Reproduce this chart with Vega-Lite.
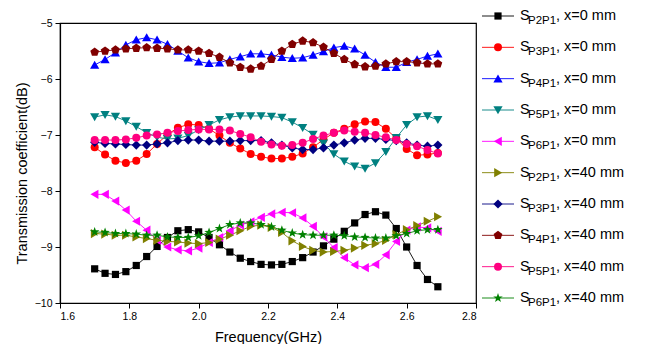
{
"$schema": "https://vega.github.io/schema/vega-lite/v6.json",
"background": "white",
"padding": {"left": 14, "top": 8, "right": 0, "bottom": 0},
"width": 416,
"height": 280,
"config": {
 "font": "Liberation Sans",
 "view": {"stroke": "#000", "strokeWidth": 1.2},
 "axis": {"domainColor": "#000", "tickColor": "#000", "labelColor": "#000", "titleColor": "#000", "labelFont": "Liberation Sans", "titleFont": "Liberation Sans", "labelFontSize": 10.5, "titleFontSize": 14.5, "titleFontWeight": "normal", "grid": false, "tickSize": 5, "labelPadding": 3, "domainWidth": 1.2, "tickWidth": 1}
},
"datasets": {
"pts": [
{"s":"P2P1_0","f":1.7,"v":-9.39},{"s":"P2P1_0","f":1.73,"v":-9.47},{"s":"P2P1_0","f":1.76,"v":-9.49},{"s":"P2P1_0","f":1.79,"v":-9.44},{"s":"P2P1_0","f":1.82,"v":-9.33},{"s":"P2P1_0","f":1.85,"v":-9.17},{"s":"P2P1_0","f":1.88,"v":-8.99},{"s":"P2P1_0","f":1.91,"v":-8.83},{"s":"P2P1_0","f":1.94,"v":-8.71},{"s":"P2P1_0","f":1.97,"v":-8.69},{"s":"P2P1_0","f":2.0,"v":-8.73},{"s":"P2P1_0","f":2.03,"v":-8.83},{"s":"P2P1_0","f":2.06,"v":-8.96},{"s":"P2P1_0","f":2.09,"v":-9.09},{"s":"P2P1_0","f":2.12,"v":-9.2},{"s":"P2P1_0","f":2.15,"v":-9.26},{"s":"P2P1_0","f":2.18,"v":-9.31},{"s":"P2P1_0","f":2.21,"v":-9.32},{"s":"P2P1_0","f":2.24,"v":-9.31},{"s":"P2P1_0","f":2.27,"v":-9.26},{"s":"P2P1_0","f":2.3,"v":-9.19},{"s":"P2P1_0","f":2.33,"v":-9.09},{"s":"P2P1_0","f":2.36,"v":-8.98},{"s":"P2P1_0","f":2.39,"v":-8.86},{"s":"P2P1_0","f":2.42,"v":-8.72},{"s":"P2P1_0","f":2.45,"v":-8.57},{"s":"P2P1_0","f":2.48,"v":-8.42},{"s":"P2P1_0","f":2.51,"v":-8.37},{"s":"P2P1_0","f":2.54,"v":-8.43},{"s":"P2P1_0","f":2.57,"v":-8.67},{"s":"P2P1_0","f":2.6,"v":-9.0},{"s":"P2P1_0","f":2.63,"v":-9.33},{"s":"P2P1_0","f":2.66,"v":-9.58},{"s":"P2P1_0","f":2.69,"v":-9.71},
{"s":"P3P1_0","f":1.7,"v":-7.22},{"s":"P3P1_0","f":1.73,"v":-7.35},{"s":"P3P1_0","f":1.76,"v":-7.46},{"s":"P3P1_0","f":1.79,"v":-7.5},{"s":"P3P1_0","f":1.82,"v":-7.46},{"s":"P3P1_0","f":1.85,"v":-7.34},{"s":"P3P1_0","f":1.88,"v":-7.16},{"s":"P3P1_0","f":1.91,"v":-6.99},{"s":"P3P1_0","f":1.94,"v":-6.87},{"s":"P3P1_0","f":1.97,"v":-6.81},{"s":"P3P1_0","f":2.0,"v":-6.82},{"s":"P3P1_0","f":2.03,"v":-6.89},{"s":"P3P1_0","f":2.06,"v":-7.01},{"s":"P3P1_0","f":2.09,"v":-7.14},{"s":"P3P1_0","f":2.12,"v":-7.24},{"s":"P3P1_0","f":2.15,"v":-7.34},{"s":"P3P1_0","f":2.18,"v":-7.39},{"s":"P3P1_0","f":2.21,"v":-7.42},{"s":"P3P1_0","f":2.24,"v":-7.42},{"s":"P3P1_0","f":2.27,"v":-7.39},{"s":"P3P1_0","f":2.3,"v":-7.33},{"s":"P3P1_0","f":2.33,"v":-7.22},{"s":"P3P1_0","f":2.36,"v":-7.08},{"s":"P3P1_0","f":2.39,"v":-6.96},{"s":"P3P1_0","f":2.42,"v":-6.89},{"s":"P3P1_0","f":2.45,"v":-6.81},{"s":"P3P1_0","f":2.48,"v":-6.76},{"s":"P3P1_0","f":2.51,"v":-6.77},{"s":"P3P1_0","f":2.54,"v":-6.89},{"s":"P3P1_0","f":2.57,"v":-7.06},{"s":"P3P1_0","f":2.6,"v":-7.25},{"s":"P3P1_0","f":2.63,"v":-7.36},{"s":"P3P1_0","f":2.66,"v":-7.35},{"s":"P3P1_0","f":2.69,"v":-7.32},
{"s":"P4P1_0","f":1.7,"v":-5.75},{"s":"P4P1_0","f":1.73,"v":-5.65},{"s":"P4P1_0","f":1.76,"v":-5.53},{"s":"P4P1_0","f":1.79,"v":-5.39},{"s":"P4P1_0","f":1.82,"v":-5.3},{"s":"P4P1_0","f":1.85,"v":-5.26},{"s":"P4P1_0","f":1.88,"v":-5.3},{"s":"P4P1_0","f":1.91,"v":-5.38},{"s":"P4P1_0","f":1.94,"v":-5.5},{"s":"P4P1_0","f":1.97,"v":-5.62},{"s":"P4P1_0","f":2.0,"v":-5.69},{"s":"P4P1_0","f":2.03,"v":-5.72},{"s":"P4P1_0","f":2.06,"v":-5.71},{"s":"P4P1_0","f":2.09,"v":-5.65},{"s":"P4P1_0","f":2.12,"v":-5.6},{"s":"P4P1_0","f":2.15,"v":-5.55},{"s":"P4P1_0","f":2.18,"v":-5.55},{"s":"P4P1_0","f":2.21,"v":-5.57},{"s":"P4P1_0","f":2.24,"v":-5.61},{"s":"P4P1_0","f":2.27,"v":-5.63},{"s":"P4P1_0","f":2.3,"v":-5.62},{"s":"P4P1_0","f":2.33,"v":-5.57},{"s":"P4P1_0","f":2.36,"v":-5.51},{"s":"P4P1_0","f":2.39,"v":-5.44},{"s":"P4P1_0","f":2.42,"v":-5.41},{"s":"P4P1_0","f":2.45,"v":-5.46},{"s":"P4P1_0","f":2.48,"v":-5.57},{"s":"P4P1_0","f":2.51,"v":-5.7},{"s":"P4P1_0","f":2.54,"v":-5.79},{"s":"P4P1_0","f":2.57,"v":-5.79},{"s":"P4P1_0","f":2.6,"v":-5.7},{"s":"P4P1_0","f":2.63,"v":-5.65},{"s":"P4P1_0","f":2.66,"v":-5.59},{"s":"P4P1_0","f":2.69,"v":-5.55},
{"s":"P5P1_0","f":1.7,"v":-6.68},{"s":"P5P1_0","f":1.73,"v":-6.64},{"s":"P5P1_0","f":1.76,"v":-6.67},{"s":"P5P1_0","f":1.79,"v":-6.75},{"s":"P5P1_0","f":1.82,"v":-6.85},{"s":"P5P1_0","f":1.85,"v":-6.96},{"s":"P5P1_0","f":1.88,"v":-7.04},{"s":"P5P1_0","f":1.91,"v":-7.07},{"s":"P5P1_0","f":1.94,"v":-7.06},{"s":"P5P1_0","f":1.97,"v":-7.01},{"s":"P5P1_0","f":2.0,"v":-6.91},{"s":"P5P1_0","f":2.03,"v":-6.82},{"s":"P5P1_0","f":2.06,"v":-6.73},{"s":"P5P1_0","f":2.09,"v":-6.68},{"s":"P5P1_0","f":2.12,"v":-6.66},{"s":"P5P1_0","f":2.15,"v":-6.66},{"s":"P5P1_0","f":2.18,"v":-6.66},{"s":"P5P1_0","f":2.21,"v":-6.67},{"s":"P5P1_0","f":2.24,"v":-6.69},{"s":"P5P1_0","f":2.27,"v":-6.77},{"s":"P5P1_0","f":2.3,"v":-6.87},{"s":"P5P1_0","f":2.33,"v":-6.99},{"s":"P5P1_0","f":2.36,"v":-7.15},{"s":"P5P1_0","f":2.39,"v":-7.34},{"s":"P5P1_0","f":2.42,"v":-7.47},{"s":"P5P1_0","f":2.45,"v":-7.56},{"s":"P5P1_0","f":2.48,"v":-7.6},{"s":"P5P1_0","f":2.51,"v":-7.5},{"s":"P5P1_0","f":2.54,"v":-7.3},{"s":"P5P1_0","f":2.57,"v":-7.05},{"s":"P5P1_0","f":2.6,"v":-6.82},{"s":"P5P1_0","f":2.63,"v":-6.68},{"s":"P5P1_0","f":2.66,"v":-6.66},{"s":"P5P1_0","f":2.69,"v":-6.73},
{"s":"P6P1_0","f":1.7,"v":-8.06},{"s":"P6P1_0","f":1.73,"v":-8.06},{"s":"P6P1_0","f":1.76,"v":-8.18},{"s":"P6P1_0","f":1.79,"v":-8.34},{"s":"P6P1_0","f":1.82,"v":-8.54},{"s":"P6P1_0","f":1.85,"v":-8.7},{"s":"P6P1_0","f":1.88,"v":-8.88},{"s":"P6P1_0","f":1.91,"v":-9.0},{"s":"P6P1_0","f":1.94,"v":-9.05},{"s":"P6P1_0","f":1.97,"v":-9.07},{"s":"P6P1_0","f":2.0,"v":-9.02},{"s":"P6P1_0","f":2.03,"v":-8.92},{"s":"P6P1_0","f":2.06,"v":-8.83},{"s":"P6P1_0","f":2.09,"v":-8.71},{"s":"P6P1_0","f":2.12,"v":-8.61},{"s":"P6P1_0","f":2.15,"v":-8.55},{"s":"P6P1_0","f":2.18,"v":-8.47},{"s":"P6P1_0","f":2.21,"v":-8.41},{"s":"P6P1_0","f":2.24,"v":-8.38},{"s":"P6P1_0","f":2.27,"v":-8.39},{"s":"P6P1_0","f":2.3,"v":-8.48},{"s":"P6P1_0","f":2.33,"v":-8.63},{"s":"P6P1_0","f":2.36,"v":-8.82},{"s":"P6P1_0","f":2.39,"v":-9.01},{"s":"P6P1_0","f":2.42,"v":-9.19},{"s":"P6P1_0","f":2.45,"v":-9.32},{"s":"P6P1_0","f":2.48,"v":-9.37},{"s":"P6P1_0","f":2.51,"v":-9.31},{"s":"P6P1_0","f":2.54,"v":-9.14},{"s":"P6P1_0","f":2.57,"v":-8.9},{"s":"P6P1_0","f":2.6,"v":-8.7},{"s":"P6P1_0","f":2.63,"v":-8.64},{"s":"P6P1_0","f":2.66,"v":-8.66},{"s":"P6P1_0","f":2.69,"v":-8.72},
{"s":"P2P1_40","f":1.7,"v":-8.76},{"s":"P2P1_40","f":1.73,"v":-8.77},{"s":"P2P1_40","f":1.76,"v":-8.79},{"s":"P2P1_40","f":1.79,"v":-8.79},{"s":"P2P1_40","f":1.82,"v":-8.82},{"s":"P2P1_40","f":1.85,"v":-8.85},{"s":"P2P1_40","f":1.88,"v":-8.88},{"s":"P2P1_40","f":1.91,"v":-8.9},{"s":"P2P1_40","f":1.94,"v":-8.91},{"s":"P2P1_40","f":1.97,"v":-8.93},{"s":"P2P1_40","f":2.0,"v":-8.94},{"s":"P2P1_40","f":2.03,"v":-8.92},{"s":"P2P1_40","f":2.06,"v":-8.86},{"s":"P2P1_40","f":2.09,"v":-8.79},{"s":"P2P1_40","f":2.12,"v":-8.71},{"s":"P2P1_40","f":2.15,"v":-8.63},{"s":"P2P1_40","f":2.18,"v":-8.61},{"s":"P2P1_40","f":2.21,"v":-8.65},{"s":"P2P1_40","f":2.24,"v":-8.74},{"s":"P2P1_40","f":2.27,"v":-8.89},{"s":"P2P1_40","f":2.3,"v":-8.99},{"s":"P2P1_40","f":2.33,"v":-9.06},{"s":"P2P1_40","f":2.36,"v":-9.09},{"s":"P2P1_40","f":2.39,"v":-9.08},{"s":"P2P1_40","f":2.42,"v":-9.06},{"s":"P2P1_40","f":2.45,"v":-9.02},{"s":"P2P1_40","f":2.48,"v":-8.97},{"s":"P2P1_40","f":2.51,"v":-8.94},{"s":"P2P1_40","f":2.54,"v":-8.88},{"s":"P2P1_40","f":2.57,"v":-8.78},{"s":"P2P1_40","f":2.6,"v":-8.69},{"s":"P2P1_40","f":2.63,"v":-8.62},{"s":"P2P1_40","f":2.66,"v":-8.54},{"s":"P2P1_40","f":2.69,"v":-8.46},
{"s":"P3P1_40","f":1.7,"v":-7.13},{"s":"P3P1_40","f":1.73,"v":-7.15},{"s":"P3P1_40","f":1.76,"v":-7.16},{"s":"P3P1_40","f":1.79,"v":-7.17},{"s":"P3P1_40","f":1.82,"v":-7.18},{"s":"P3P1_40","f":1.85,"v":-7.18},{"s":"P3P1_40","f":1.88,"v":-7.16},{"s":"P3P1_40","f":1.91,"v":-7.14},{"s":"P3P1_40","f":1.94,"v":-7.1},{"s":"P3P1_40","f":1.97,"v":-7.09},{"s":"P3P1_40","f":2.0,"v":-7.09},{"s":"P3P1_40","f":2.03,"v":-7.11},{"s":"P3P1_40","f":2.06,"v":-7.11},{"s":"P3P1_40","f":2.09,"v":-7.11},{"s":"P3P1_40","f":2.12,"v":-7.1},{"s":"P3P1_40","f":2.15,"v":-7.1},{"s":"P3P1_40","f":2.18,"v":-7.1},{"s":"P3P1_40","f":2.21,"v":-7.14},{"s":"P3P1_40","f":2.24,"v":-7.18},{"s":"P3P1_40","f":2.27,"v":-7.23},{"s":"P3P1_40","f":2.3,"v":-7.26},{"s":"P3P1_40","f":2.33,"v":-7.26},{"s":"P3P1_40","f":2.36,"v":-7.23},{"s":"P3P1_40","f":2.39,"v":-7.18},{"s":"P3P1_40","f":2.42,"v":-7.14},{"s":"P3P1_40","f":2.45,"v":-7.09},{"s":"P3P1_40","f":2.48,"v":-7.06},{"s":"P3P1_40","f":2.51,"v":-7.06},{"s":"P3P1_40","f":2.54,"v":-7.08},{"s":"P3P1_40","f":2.57,"v":-7.1},{"s":"P3P1_40","f":2.6,"v":-7.14},{"s":"P3P1_40","f":2.63,"v":-7.18},{"s":"P3P1_40","f":2.66,"v":-7.2},{"s":"P3P1_40","f":2.69,"v":-7.18},
{"s":"P4P1_40","f":1.7,"v":-5.52},{"s":"P4P1_40","f":1.73,"v":-5.5},{"s":"P4P1_40","f":1.76,"v":-5.48},{"s":"P4P1_40","f":1.79,"v":-5.46},{"s":"P4P1_40","f":1.82,"v":-5.45},{"s":"P4P1_40","f":1.85,"v":-5.44},{"s":"P4P1_40","f":1.88,"v":-5.45},{"s":"P4P1_40","f":1.91,"v":-5.46},{"s":"P4P1_40","f":1.94,"v":-5.48},{"s":"P4P1_40","f":1.97,"v":-5.48},{"s":"P4P1_40","f":2.0,"v":-5.5},{"s":"P4P1_40","f":2.03,"v":-5.54},{"s":"P4P1_40","f":2.06,"v":-5.61},{"s":"P4P1_40","f":2.09,"v":-5.71},{"s":"P4P1_40","f":2.12,"v":-5.79},{"s":"P4P1_40","f":2.15,"v":-5.82},{"s":"P4P1_40","f":2.18,"v":-5.77},{"s":"P4P1_40","f":2.21,"v":-5.65},{"s":"P4P1_40","f":2.24,"v":-5.5},{"s":"P4P1_40","f":2.27,"v":-5.38},{"s":"P4P1_40","f":2.3,"v":-5.32},{"s":"P4P1_40","f":2.33,"v":-5.35},{"s":"P4P1_40","f":2.36,"v":-5.43},{"s":"P4P1_40","f":2.39,"v":-5.54},{"s":"P4P1_40","f":2.42,"v":-5.65},{"s":"P4P1_40","f":2.45,"v":-5.74},{"s":"P4P1_40","f":2.48,"v":-5.78},{"s":"P4P1_40","f":2.51,"v":-5.77},{"s":"P4P1_40","f":2.54,"v":-5.73},{"s":"P4P1_40","f":2.57,"v":-5.69},{"s":"P4P1_40","f":2.6,"v":-5.69},{"s":"P4P1_40","f":2.63,"v":-5.71},{"s":"P4P1_40","f":2.66,"v":-5.73},{"s":"P4P1_40","f":2.69,"v":-5.73},
{"s":"P5P1_40","f":1.7,"v":-7.09},{"s":"P5P1_40","f":1.73,"v":-7.09},{"s":"P5P1_40","f":1.76,"v":-7.09},{"s":"P5P1_40","f":1.79,"v":-7.08},{"s":"P5P1_40","f":1.82,"v":-7.05},{"s":"P5P1_40","f":1.85,"v":-7.01},{"s":"P5P1_40","f":1.88,"v":-6.99},{"s":"P5P1_40","f":1.91,"v":-6.96},{"s":"P5P1_40","f":1.94,"v":-6.93},{"s":"P5P1_40","f":1.97,"v":-6.91},{"s":"P5P1_40","f":2.0,"v":-6.9},{"s":"P5P1_40","f":2.03,"v":-6.9},{"s":"P5P1_40","f":2.06,"v":-6.9},{"s":"P5P1_40","f":2.09,"v":-6.92},{"s":"P5P1_40","f":2.12,"v":-6.98},{"s":"P5P1_40","f":2.15,"v":-7.04},{"s":"P5P1_40","f":2.18,"v":-7.12},{"s":"P5P1_40","f":2.21,"v":-7.17},{"s":"P5P1_40","f":2.24,"v":-7.19},{"s":"P5P1_40","f":2.27,"v":-7.18},{"s":"P5P1_40","f":2.3,"v":-7.14},{"s":"P5P1_40","f":2.33,"v":-7.07},{"s":"P5P1_40","f":2.36,"v":-7.01},{"s":"P5P1_40","f":2.39,"v":-6.96},{"s":"P5P1_40","f":2.42,"v":-6.92},{"s":"P5P1_40","f":2.45,"v":-6.94},{"s":"P5P1_40","f":2.48,"v":-6.96},{"s":"P5P1_40","f":2.51,"v":-7.0},{"s":"P5P1_40","f":2.54,"v":-7.04},{"s":"P5P1_40","f":2.57,"v":-7.09},{"s":"P5P1_40","f":2.6,"v":-7.16},{"s":"P5P1_40","f":2.63,"v":-7.2},{"s":"P5P1_40","f":2.66,"v":-7.27},{"s":"P5P1_40","f":2.69,"v":-7.33},
{"s":"P6P1_40","f":1.7,"v":-8.73},{"s":"P6P1_40","f":1.73,"v":-8.74},{"s":"P6P1_40","f":1.76,"v":-8.76},{"s":"P6P1_40","f":1.79,"v":-8.76},{"s":"P6P1_40","f":1.82,"v":-8.77},{"s":"P6P1_40","f":1.85,"v":-8.79},{"s":"P6P1_40","f":1.88,"v":-8.79},{"s":"P6P1_40","f":1.91,"v":-8.82},{"s":"P6P1_40","f":1.94,"v":-8.83},{"s":"P6P1_40","f":1.97,"v":-8.83},{"s":"P6P1_40","f":2.0,"v":-8.8},{"s":"P6P1_40","f":2.03,"v":-8.74},{"s":"P6P1_40","f":2.06,"v":-8.67},{"s":"P6P1_40","f":2.09,"v":-8.6},{"s":"P6P1_40","f":2.12,"v":-8.57},{"s":"P6P1_40","f":2.15,"v":-8.57},{"s":"P6P1_40","f":2.18,"v":-8.6},{"s":"P6P1_40","f":2.21,"v":-8.64},{"s":"P6P1_40","f":2.24,"v":-8.7},{"s":"P6P1_40","f":2.27,"v":-8.75},{"s":"P6P1_40","f":2.3,"v":-8.78},{"s":"P6P1_40","f":2.33,"v":-8.79},{"s":"P6P1_40","f":2.36,"v":-8.79},{"s":"P6P1_40","f":2.39,"v":-8.79},{"s":"P6P1_40","f":2.42,"v":-8.8},{"s":"P6P1_40","f":2.45,"v":-8.82},{"s":"P6P1_40","f":2.48,"v":-8.83},{"s":"P6P1_40","f":2.51,"v":-8.84},{"s":"P6P1_40","f":2.54,"v":-8.84},{"s":"P6P1_40","f":2.57,"v":-8.8},{"s":"P6P1_40","f":2.6,"v":-8.76},{"s":"P6P1_40","f":2.63,"v":-8.71},{"s":"P6P1_40","f":2.66,"v":-8.69},{"s":"P6P1_40","f":2.69,"v":-8.69}
],
"leg": [
{"s":"P2P1_0","sub":"P2P1","rest":", x=0 mm"},
{"s":"P3P1_0","sub":"P3P1","rest":", x=0 mm"},
{"s":"P4P1_0","sub":"P4P1","rest":", x=0 mm"},
{"s":"P5P1_0","sub":"P5P1","rest":", x=0 mm"},
{"s":"P6P1_0","sub":"P6P1","rest":", x=0 mm"},
{"s":"P2P1_40","sub":"P2P1","rest":", x=40 mm"},
{"s":"P3P1_40","sub":"P3P1","rest":", x=40 mm"},
{"s":"P4P1_40","sub":"P4P1","rest":", x=40 mm"},
{"s":"P5P1_40","sub":"P5P1","rest":", x=40 mm"},
{"s":"P6P1_40","sub":"P6P1","rest":", x=40 mm"}
]
},
"resolve": {"scale": {"x": "independent", "y": "independent"}, "axis": {"x": "independent", "y": "independent"}},
"layer": [
{
 "data": {"name": "pts"},
 "encoding": {
  "x": {"field": "f", "type": "quantitative", "scale": {"domain": [1.6, 2.8], "nice": false, "zero": false}, "axis": {"values": [1.6, 1.8, 2.0, 2.2, 2.4, 2.6, 2.8], "format": ".1f", "title": "Frequency(GHz)", "titlePadding": 9}},
  "y": {"field": "v", "type": "quantitative", "scale": {"domain": [-10, -5], "nice": false, "zero": false}, "axis": {"values": [-10, -9, -8, -7, -6, -5], "format": "d", "title": "Transmission coefficient(dB)", "titlePadding": 5, "titleY": 150}},
  "color": {"field": "s", "type": "nominal", "scale": {"domain": ["P2P1_0","P3P1_0","P4P1_0","P5P1_0","P6P1_0","P2P1_40","P3P1_40","P4P1_40","P5P1_40","P6P1_40"], "range": ["#000000","#FF0000","#0000FF","#008080","#FF00FF","#808000","#000080","#800000","#FF0080","#008000"]}, "legend": null}
 },
 "layer": [
  {"mark": {"type": "line", "strokeWidth": 0.9}},
  {"mark": {"type": "point", "filled": true, "opacity": 1, "size": 64},
   "encoding": {
    "shape": {"field": "s", "type": "nominal", "scale": {"domain": ["P2P1_0","P3P1_0","P4P1_0","P5P1_0","P6P1_0","P2P1_40","P3P1_40","P4P1_40","P5P1_40","P6P1_40"], "range": ["M-0.9,-0.9H0.9V0.9H-0.9Z","circle","M0,-1.05L1.15,0.95L-1.15,0.95Z","M0,1.05L1.15,-0.95L-1.15,-0.95Z","M-1.05,0L0.95,-1.15L0.95,1.15Z","M1.05,0L-0.95,-1.15L-0.95,1.15Z","M0,-1.15L1.15,0L0,1.15L-1.15,0Z","M0,-1.15L1.09,-0.36L0.68,0.93L-0.68,0.93L-1.09,-0.36Z","circle","M0,-1.25L0.294,-0.405L1.189,-0.386L0.476,0.155L0.735,1.011L0,0.5L-0.735,1.011L-0.476,0.155L-1.189,-0.386L-0.294,-0.405Z"]}, "legend": null}
   }}
 ]
},
{
 "data": {"name": "leg"},
 "encoding": {
  "y": {"field": "s", "type": "nominal", "scale": {"type": "point", "padding": 0, "domain": ["P2P1_0","P3P1_0","P4P1_0","P5P1_0","P6P1_0","P2P1_40","P3P1_40","P4P1_40","P5P1_40","P6P1_40"], "range": [-7, 275]}, "axis": null}
 },
 "layer": [
  {"mark": {"type": "rule", "strokeWidth": 0.9},
   "encoding": {
    "x": {"datum": 6, "type": "quantitative", "scale": {"domain": [0, 170], "range": [416, 586], "nice": false, "zero": false}, "axis": null},
    "x2": {"datum": 38},
    "color": {"field": "s", "type": "nominal", "legend": null}
   }},
  {"mark": {"type": "point", "filled": true, "opacity": 1, "size": 64},
   "encoding": {
    "x": {"datum": 22, "type": "quantitative"},
    "color": {"field": "s", "type": "nominal", "legend": null},
    "shape": {"field": "s", "type": "nominal", "legend": null}
   }},
  {"mark": {"type": "text", "align": "left", "baseline": "middle", "fontSize": 14.5, "color": "#000"},
   "encoding": {"x": {"datum": 44, "type": "quantitative"}, "text": {"value": "S"}}},
  {"mark": {"type": "text", "align": "left", "baseline": "middle", "fontSize": 11.5, "dy": 5, "color": "#000"},
   "encoding": {"x": {"datum": 52, "type": "quantitative"}, "text": {"field": "sub"}}},
  {"mark": {"type": "text", "align": "left", "baseline": "middle", "fontSize": 14.5, "color": "#000"},
   "encoding": {"x": {"datum": 80, "type": "quantitative"}, "text": {"field": "rest"}}}
 ]
}
]
}
